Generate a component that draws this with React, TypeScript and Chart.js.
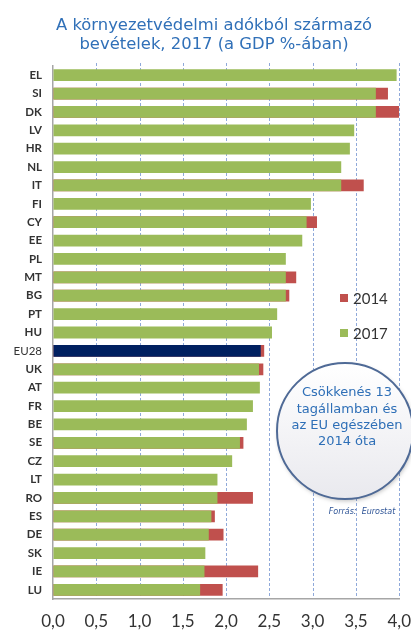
import { useEffect, useRef } from "react";
import { Chart, registerables } from "chart.js";
Chart.register(...registerables);

const titleLines = ["A környezetvédelmi adókból származó", "bevételek, 2017 (a GDP %-ában)"];
const categories = ["EL","SI","DK","LV","HR","NL","IT","FI","CY","EE","PL","MT","BG","PT","HU","EU28","UK","AT","FR","BE","SE","CZ","LT","RO","ES","DE","SK","IE","LU"];
const values2017 = [3.97,3.73,3.73,3.48,3.43,3.33,3.33,2.98,2.93,2.88,2.69,2.69,2.69,2.59,2.53,2.40,2.38,2.39,2.31,2.24,2.16,2.07,1.90,1.90,1.83,1.80,1.76,1.75,1.70];
const values2014 = [null,3.87,4.00,null,null,null,3.59,null,3.05,null,null,2.81,2.73,null,null,2.44,2.43,null,null,null,2.20,null,null,2.31,1.87,1.97,null,2.37,1.96];
const seriesLabels = ["2017", "2014"];
const calloutLines = ["Csökkenés 13", "tagállamban és", "az EU egészében", "2014 óta"];
const sourceText = "Forrás:  Eurostat";
const highlight = "EU28";

const GREEN = "#9BBB59";
const RED = "#C0504D";
const NAVY = "#002060";

const overlay = {
  id: "overlay",
  afterDraw(chart: any) {
    const ctx = chart.ctx as CanvasRenderingContext2D;
    const xs = chart.scales.x;
    const { top, bottom } = chart.chartArea;

    // dashed gridlines, painted behind everything already drawn
    ctx.save();
    ctx.globalCompositeOperation = "destination-over";
    ctx.strokeStyle = "#8FA9DA";
    ctx.lineWidth = 1;
    ctx.setLineDash([3, 2]);
    const tickVals: number[] = xs.ticks.map((t: any) => t.value);
    for (const v of tickVals) {
      if (v === 0) continue;
      const x = Math.round(xs.getPixelForValue(v)) + 0.5;
      ctx.beginPath();
      ctx.moveTo(x, top - 3);
      ctx.lineTo(x, bottom);
      ctx.stroke();
    }
    ctx.restore();

    ctx.save();
    ctx.fillStyle = "#3070B8";
    ctx.font = "16.4px 'DejaVu Sans'";
    ctx.textAlign = "center";
    ctx.textBaseline = "alphabetic";
    ctx.fillText(titleLines[0], 214, 30);
    ctx.fillText(titleLines[1], 214, 49);

    const legendItems = [
      { label: seriesLabels[1], color: RED, y: 298 },
      { label: seriesLabels[0], color: GREEN, y: 333 },
    ];
    ctx.font = "15px Lato";
    ctx.textAlign = "left";
    ctx.textBaseline = "middle";
    for (const it of legendItems) {
      ctx.fillStyle = it.color;
      ctx.fillRect(340, it.y - 4, 8, 8);
      ctx.fillStyle = "#333333";
      ctx.fillText(it.label, 353, it.y + 1);
    }

    const cx = 345, cy = 431, r = 68;
    ctx.save();
    ctx.shadowColor = "rgba(0,0,0,0.25)";
    ctx.shadowBlur = 4;
    ctx.shadowOffsetX = 1;
    ctx.shadowOffsetY = 2;
    const g = ctx.createLinearGradient(0, cy - r, 0, cy + r);
    g.addColorStop(0, "#FFFFFF");
    g.addColorStop(1, "#E9E9EE");
    ctx.fillStyle = g;
    ctx.beginPath();
    ctx.arc(cx, cy, r, 0, Math.PI * 2);
    ctx.fill();
    ctx.restore();
    ctx.strokeStyle = "#4F6A96";
    ctx.lineWidth = 2;
    ctx.beginPath();
    ctx.arc(cx, cy, r, 0, Math.PI * 2);
    ctx.stroke();

    ctx.fillStyle = "#2E6FB7";
    ctx.font = "13px 'DejaVu Sans'";
    ctx.textAlign = "center";
    ctx.textBaseline = "middle";
    calloutLines.forEach((l, i) => ctx.fillText(l, 347, 393 + i * 16.3));

    ctx.fillStyle = "#2F5597";
    ctx.font = "italic 8px 'DejaVu Sans'";
    ctx.fillText(sourceText, 362, 512);
    ctx.restore();
  },
};

export default function App() {
  const ref = useRef<HTMLCanvasElement>(null);
  useEffect(() => {
    document.body.style.margin = "0";
    const chart = new Chart(ref.current!, {
      type: "bar",
      data: {
        labels: categories,
        datasets: [
          {
            label: seriesLabels[0],
            data: values2017,
            backgroundColor: categories.map((c) => (c === highlight ? NAVY : GREEN)),
            grouped: false,
            barPercentage: 0.64,
            categoryPercentage: 1,
          } as any,
          {
            label: seriesLabels[1],
            data: values2014,
            backgroundColor: RED,
            grouped: false,
            barPercentage: 0.64,
            categoryPercentage: 1,
          } as any,
        ],
      },
      options: {
        indexAxis: "y",
        responsive: false,
        animation: false,
        layout: { padding: { top: 66, right: 0, left: 0, bottom: 0 } },
        plugins: { legend: { display: false }, tooltip: { enabled: false }, title: { display: false } },
        scales: {
          x: {
            min: 0,
            max: 4,
            ticks: {
              stepSize: 0.5,
              padding: 0,
              color: "#333333",
              font: { family: "Lato", size: 17 },
              callback: (v: any) => Number(v).toFixed(1).replace(".", ","),
            },
            grid: { color: "rgba(0,0,0,0)", drawTicks: true, tickLength: 12, tickColor: "rgba(0,0,0,0)", lineWidth: 1 },
            border: { display: true, color: "#A6A6A6", width: 1.5 },
            afterFit: (s: any) => { s.height = 33; },
          },
          y: {
            ticks: {
              padding: 11,
              color: "#333333",
              autoSkip: false,
              font: (ctx: any) => ({
                family: "Lato",
                size: 11.5,
                weight: categories[ctx.index] === highlight ? "normal" : "bold",
              }),
            },
            grid: { display: false, drawTicks: false },
            border: { display: true, color: "#A6A6A6", width: 1.5 },
            afterFit: (s: any) => { s.width = 53; },
          },
        },
      },
      plugins: [overlay],
    });
    return () => chart.destroy();
  }, []);
  return <canvas ref={ref} width={411} height={632} />;
}
